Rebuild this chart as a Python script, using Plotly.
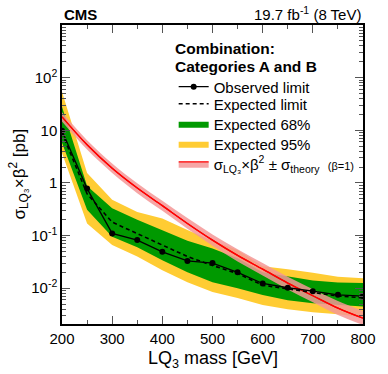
import plotly.graph_objects as go

# Dados (massa do LQ3 em GeV, seções de choque em pb)
masses = [200, 250, 300, 350, 400, 450, 500, 550, 600, 650, 700, 750, 800]
observed = [9.8, 0.78, 0.11, 0.082, 0.049, 0.033, 0.030, 0.020, 0.0123, 0.0102, 0.0088, 0.0075, 0.0071]
expected = [9.0, 0.62, 0.18, 0.11, 0.066, 0.040, 0.027, 0.019, 0.0114, 0.0096, 0.0083, 0.0071, 0.0066]
exp68_up = [28, 0.87, 0.33, 0.20, 0.126, 0.080, 0.057, 0.037, 0.020, 0.0165, 0.014, 0.0129, 0.0125]
exp68_dn = [5.8, 0.31, 0.095, 0.060, 0.034, 0.020, 0.013, 0.010, 0.0074, 0.0059, 0.0052, 0.0048, 0.0045]
exp95_up = [54, 1.55, 0.48, 0.28, 0.21, 0.127, 0.080, 0.053, 0.026, 0.023, 0.0196, 0.0165, 0.0155]
exp95_dn = [3.7, 0.17, 0.066, 0.040, 0.022, 0.013, 0.0085, 0.0065, 0.0048, 0.0040, 0.0035, 0.0032, 0.0028]
theory = [18, 5.3, 1.9, 0.80, 0.37, 0.17, 0.082, 0.042, 0.023, 0.0125, 0.0072, 0.0042, 0.0027]
theory_up = [22, 6.5, 2.35, 0.99, 0.46, 0.215, 0.105, 0.055, 0.030, 0.0165, 0.0096, 0.0057, 0.0037]
theory_dn = [14.7, 4.3, 1.54, 0.64, 0.295, 0.134, 0.064, 0.032, 0.0175, 0.0095, 0.0054, 0.0031, 0.0020]

y_tickvals = [0.01, 0.1, 1, 10, 100]
y_ticktext = ['10<sup>-2</sup>', '10<sup>-1</sup>', '1', '10', '10<sup>2</sup>']
x_tickvals = [200, 300, 400, 500, 600, 700, 800]

FONT = 'Liberation Sans, Arial, sans-serif'
PINK = 'rgba(245,150,150,0.85)'

fig = go.Figure()

# Banda 95%
fig.add_trace(go.Scatter(
    x=masses + masses[::-1],
    y=exp95_up + exp95_dn[::-1],
    fill='toself', fillcolor='#FFCC33',
    line=dict(width=0), mode='lines',
    name='Expected 95%', legend='legend4', hoverinfo='skip'
))

# Banda 68%
fig.add_trace(go.Scatter(
    x=masses + masses[::-1],
    y=exp68_up + exp68_dn[::-1],
    fill='toself', fillcolor='#009900',
    line=dict(width=0), mode='lines',
    name='Expected 68%', legend='legend3', hoverinfo='skip'
))

# Banda teórica: limite superior, curva central (com legenda) e limite inferior
fig.add_trace(go.Scatter(
    x=masses, y=theory_up, mode='lines',
    line=dict(width=0, shape='spline'),
    showlegend=False, hoverinfo='skip'
))
fig.add_trace(go.Scatter(
    x=masses, y=theory, mode='lines',
    fill='tonexty', fillcolor=PINK,
    line=dict(color='#FF0000', width=1.3, shape='spline'),
    name="σ<sub>LQ₃</sub>×β<sup>2</sup> ± σ<sub>theory</sub>  <span style='font-size:11px'>(β=1)</span>",
    legend='legend5'
))
fig.add_trace(go.Scatter(
    x=masses, y=theory_dn, mode='lines',
    fill='tonexty', fillcolor=PINK,
    line=dict(width=0, shape='spline'),
    showlegend=False, hoverinfo='skip'
))
# Redesenha a curva central por cima do preenchimento
fig.add_trace(go.Scatter(
    x=masses, y=theory, mode='lines',
    line=dict(color='#FF0000', width=1.3, shape='spline'),
    showlegend=False
))

# Limite esperado
fig.add_trace(go.Scatter(
    x=masses, y=expected, mode='lines',
    line=dict(color='black', width=1.6, dash='4px,3px'),
    name='Expected limit', legend='legend2'
))

# Limite observado
fig.add_trace(go.Scatter(
    x=masses, y=observed, mode='lines+markers',
    line=dict(color='black', width=1.3),
    marker=dict(color='black', size=6),
    name='Observed limit', legend='legend'
))

fig.update_xaxes(
    range=[200, 800],
    tickvals=x_tickvals,
    ticks='inside', ticklen=8, tickwidth=1, tickcolor='#555',
    minor=dict(ticks='inside', ticklen=4, dtick=50, tickcolor='#555', showgrid=False),
    showline=True, linecolor='black', linewidth=1.5, mirror='allticks',
    showgrid=False, zeroline=False,
    tickfont=dict(size=15, color='black')
)

fig.update_yaxes(
    type='log', range=[-2.68, 3.0],
    tickvals=y_tickvals, ticktext=y_ticktext,
    ticks='inside', ticklen=8, tickwidth=1, tickcolor='#555',
    minor=dict(ticks='inside', ticklen=4, dtick='D1', tickcolor='#555', showgrid=False),
    showline=True, linecolor='black', linewidth=1.5, mirror='allticks',
    showgrid=False, zeroline=False,
    tickfont=dict(size=15, color='black')
)

# Títulos dos eixos como anotações para controlar a posição
fig.add_annotation(x=0.5, y=0, xref='paper', yref='paper', xanchor='center', yanchor='middle',
                   text='LQ<sub>3</sub> mass [GeV]', showarrow=False,
                   font=dict(size=18, color='black'), yshift=-35)
fig.add_annotation(x=0, y=0.5, xref='paper', yref='paper', xanchor='center', yanchor='middle',
                   text='σ<sub>LQ₃</sub>×β<sup>2</sup> [pb]', showarrow=False, textangle=-90,
                   font=dict(size=17, color='black'), xshift=-43)

fig.add_annotation(x=0, y=1, xref='paper', yref='paper', xanchor='left', yanchor='bottom',
                   text='<b>CMS</b>', showarrow=False, font=dict(size=15, color='black'))
fig.add_annotation(x=1, y=1, xref='paper', yref='paper', xanchor='right', yanchor='bottom',
                   text='19.7 fb<sup>-1</sup> (8 TeV)', showarrow=False, font=dict(size=15, color='black'))

# Título da legenda
fig.add_annotation(x=0.37, y=0.923, xref='paper', yref='paper', xanchor='left', yanchor='middle',
                   text='<b>Combination:</b>', showarrow=False, font=dict(size=15.5, color='black'))
fig.add_annotation(x=0.37, y=0.860, xref='paper', yref='paper', xanchor='left', yanchor='middle',
                   text='<b>Categories A and B</b>', showarrow=False, font=dict(size=15.5, color='black'))

# Uma legenda por linha para reproduzir o espaçamento do original
legend_style = dict(x=0.371, xanchor='left', yanchor='middle', bgcolor='rgba(0,0,0,0)',
                    font=dict(size=15, color='black'), itemwidth=30)

fig.update_layout(
    width=388, height=374,
    margin=dict(l=62, r=14, t=25, b=50),
    plot_bgcolor='white', paper_bgcolor='white',
    font=dict(family=FONT, color='black'),
    showlegend=True,
    legend=dict(y=0.793, **legend_style),
    legend2=dict(y=0.736, **legend_style),
    legend3=dict(y=0.669, **legend_style),
    legend4=dict(y=0.602, **legend_style),
    legend5=dict(y=0.535, **legend_style),
)

fig.write_html('out.html', config={'displayModeBar': False},
               post_script="document.body.style.margin='0';")
